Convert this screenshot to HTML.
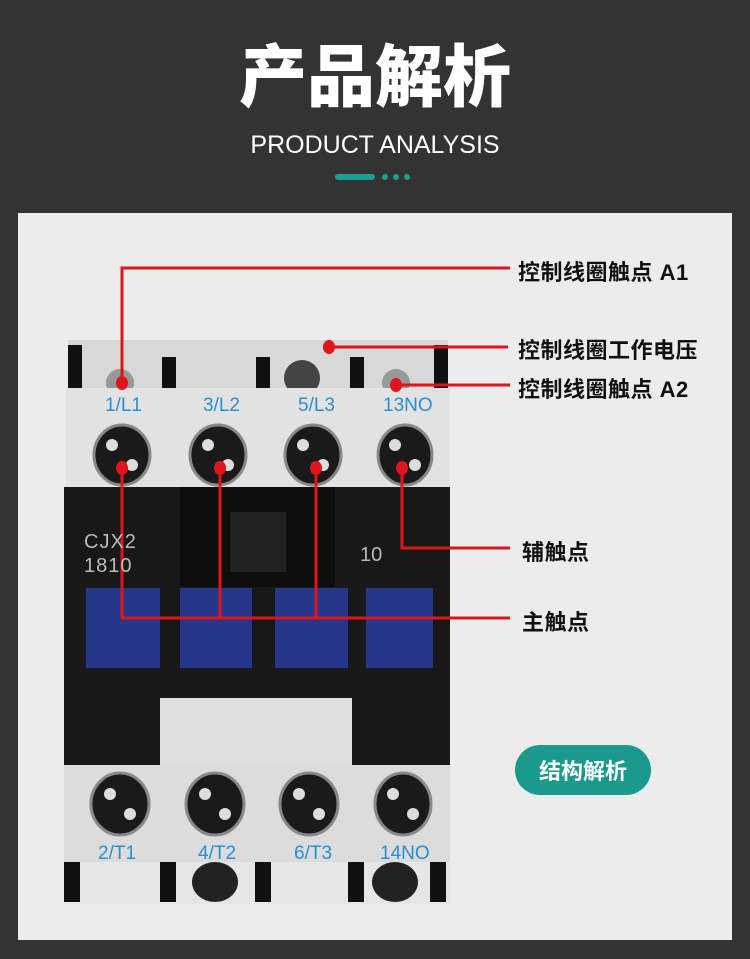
<!DOCTYPE html>
<html><head><meta charset="utf-8"><style>
*{margin:0;padding:0;box-sizing:border-box}
body{width:750px;height:959px;background:#333;position:relative;overflow:hidden;font-family:"Liberation Sans","Noto Sans CJK SC",sans-serif}
.a{position:absolute}
.lbl{position:absolute;color:#111;font-weight:bold;font-size:22px;letter-spacing:0.5px;font-family:"Liberation Sans","Noto Sans CJK SC",sans-serif;white-space:nowrap}
.blue{position:absolute;color:#2a8fd0;font-size:19px;font-family:"Liberation Sans",sans-serif}
</style></head><body>
<div class="a" style="left:0;top:32px;width:750px;text-align:center;color:#fff;font-weight:900;font-size:68px;line-height:80px;font-family:'Noto Sans CJK SC',sans-serif">产品解析</div>
<div class="a" style="left:0;top:129px;width:750px;text-align:center;color:#fff;font-size:25px;line-height:32px">PRODUCT ANALYSIS</div>
<div class="a" style="left:335px;top:174px;width:40px;height:6px;border-radius:3px;background:#1aa095"></div>
<div class="a" style="left:382px;top:174px;width:6px;height:6px;border-radius:3px;background:#1aa095"></div>
<div class="a" style="left:393px;top:174px;width:6px;height:6px;border-radius:3px;background:#1aa095"></div>
<div class="a" style="left:404px;top:174px;width:6px;height:6px;border-radius:3px;background:#1aa095"></div>

<div class="a" style="left:18px;top:213px;width:714px;height:727px;background:#ececec"></div>

<svg class="a" style="left:0;top:0" width="750" height="959">
<rect x="150" y="343" width="180" height="14" fill="#4a7fc0"/>
<rect x="68" y="340" width="380" height="48" fill="#d8d8d8"/>
<rect x="68" y="345" width="14" height="43" fill="#111"/>
<rect x="434" y="345" width="14" height="43" fill="#111"/>
<rect x="162" y="357" width="14" height="31" fill="#111"/>
<rect x="256" y="357" width="14" height="31" fill="#111"/>
<rect x="350" y="357" width="14" height="31" fill="#111"/>
<circle cx="302" cy="378" r="18" fill="#444"/>
<circle cx="120" cy="383" r="14" fill="#999"/>
<circle cx="396" cy="383" r="14" fill="#999"/>
<rect x="66" y="388" width="384" height="100" fill="#e2e2e2"/>
<rect x="64" y="487" width="386" height="278" fill="#181818"/>
<rect x="180" y="487" width="155" height="100" fill="#0e0e0e"/>
<rect x="230" y="512" width="56" height="60" fill="#222"/>
<rect x="86" y="588" width="74" height="80" fill="#26368a"/>
<rect x="180" y="588" width="72" height="80" fill="#26368a"/>
<rect x="275" y="588" width="73" height="80" fill="#26368a"/>
<rect x="366" y="588" width="67" height="80" fill="#26368a"/>
<rect x="160" y="698" width="192" height="67" fill="#dedede"/>
<rect x="64" y="862" width="386" height="42" fill="#e6e6e6"/>
<rect x="64" y="862" width="16" height="40" fill="#111"/>
<rect x="160" y="862" width="16" height="40" fill="#111"/>
<rect x="255" y="862" width="16" height="40" fill="#111"/>
<rect x="348" y="862" width="16" height="40" fill="#111"/>
<rect x="430" y="862" width="16" height="40" fill="#111"/>
<ellipse cx="215" cy="882" rx="23" ry="20" fill="#222"/>
<ellipse cx="395" cy="882" rx="23" ry="20" fill="#222"/>
<rect x="64" y="765" width="386" height="97" fill="#dcdcdc"/>
<g fill="#1a1a1a" stroke="#888" stroke-width="3">
<ellipse cx="122" cy="455" rx="28" ry="30"/><ellipse cx="218" cy="455" rx="28" ry="30"/>
<ellipse cx="313" cy="455" rx="28" ry="30"/><ellipse cx="405" cy="455" rx="27" ry="30"/>
<ellipse cx="120" cy="804" rx="29" ry="31"/><ellipse cx="215" cy="804" rx="29" ry="31"/>
<ellipse cx="309" cy="804" rx="29" ry="31"/><ellipse cx="403" cy="804" rx="28" ry="31"/>
</g>
<g fill="#ddd">
<circle cx="112" cy="445" r="6"/><circle cx="132" cy="465" r="6"/><circle cx="208" cy="445" r="6"/><circle cx="228" cy="465" r="6"/>
<circle cx="303" cy="445" r="6"/><circle cx="323" cy="465" r="6"/><circle cx="395" cy="445" r="6"/><circle cx="415" cy="465" r="6"/>
<circle cx="110" cy="794" r="6"/><circle cx="130" cy="814" r="6"/><circle cx="205" cy="794" r="6"/><circle cx="225" cy="814" r="6"/>
<circle cx="299" cy="794" r="6"/><circle cx="319" cy="814" r="6"/><circle cx="393" cy="794" r="6"/><circle cx="413" cy="814" r="6"/>
</g>
<g stroke="#e0141b" stroke-width="3" fill="none">
<polyline points="122,383 122,268 510,268"/>
<line x1="329" y1="347" x2="508" y2="347"/>
<line x1="396" y1="385" x2="510" y2="385"/>
<polyline points="402,468 402,548 510,548"/>
<polyline points="122,468 122,618 510,618"/>
<line x1="220" y1="468" x2="220" y2="618"/>
<line x1="316" y1="468" x2="316" y2="618"/>
</g>
<g fill="#e0141b">
<ellipse cx="122" cy="383" rx="6" ry="7"/><ellipse cx="329" cy="347" rx="6" ry="7"/><ellipse cx="396" cy="385" rx="6" ry="7"/>
<ellipse cx="122" cy="468" rx="6" ry="7"/><ellipse cx="220" cy="468" rx="6" ry="7"/><ellipse cx="316" cy="468" rx="6" ry="7"/><ellipse cx="402" cy="468" rx="6" ry="7"/>
</g>
</svg>
<div class="blue" style="left:105px;top:395px">1/L1</div>
<div class="blue" style="left:203px;top:395px">3/L2</div>
<div class="blue" style="left:298px;top:395px">5/L3</div>
<div class="blue" style="left:383px;top:395px">13NO</div>
<div class="blue" style="left:98px;top:843px">2/T1</div>
<div class="blue" style="left:198px;top:843px">4/T2</div>
<div class="blue" style="left:294px;top:843px">6/T3</div>
<div class="blue" style="left:380px;top:843px">14NO</div>
<div class="a" style="left:84px;top:530px;color:#bbb;font-size:20px;line-height:24px;letter-spacing:1px">CJX2<br>1810</div>
<div class="a" style="left:360px;top:544px;color:#bbb;font-size:20px">10</div>

<div class="lbl" style="left:518px;top:255px">控制线圈触点 A1</div>
<div class="lbl" style="left:518px;top:333px">控制线圈工作电压</div>
<div class="lbl" style="left:518px;top:372px">控制线圈触点 A2</div>
<div class="lbl" style="left:522px;top:535px">辅触点</div>
<div class="lbl" style="left:522px;top:605px">主触点</div>
<div class="a" style="left:515px;top:745px;width:136px;height:50px;border-radius:25px;background:#1a9a8c;color:#fff;font-weight:bold;font-size:22px;line-height:50px;text-align:center;font-family:'Noto Sans CJK SC',sans-serif">结构解析</div>
</body></html>
